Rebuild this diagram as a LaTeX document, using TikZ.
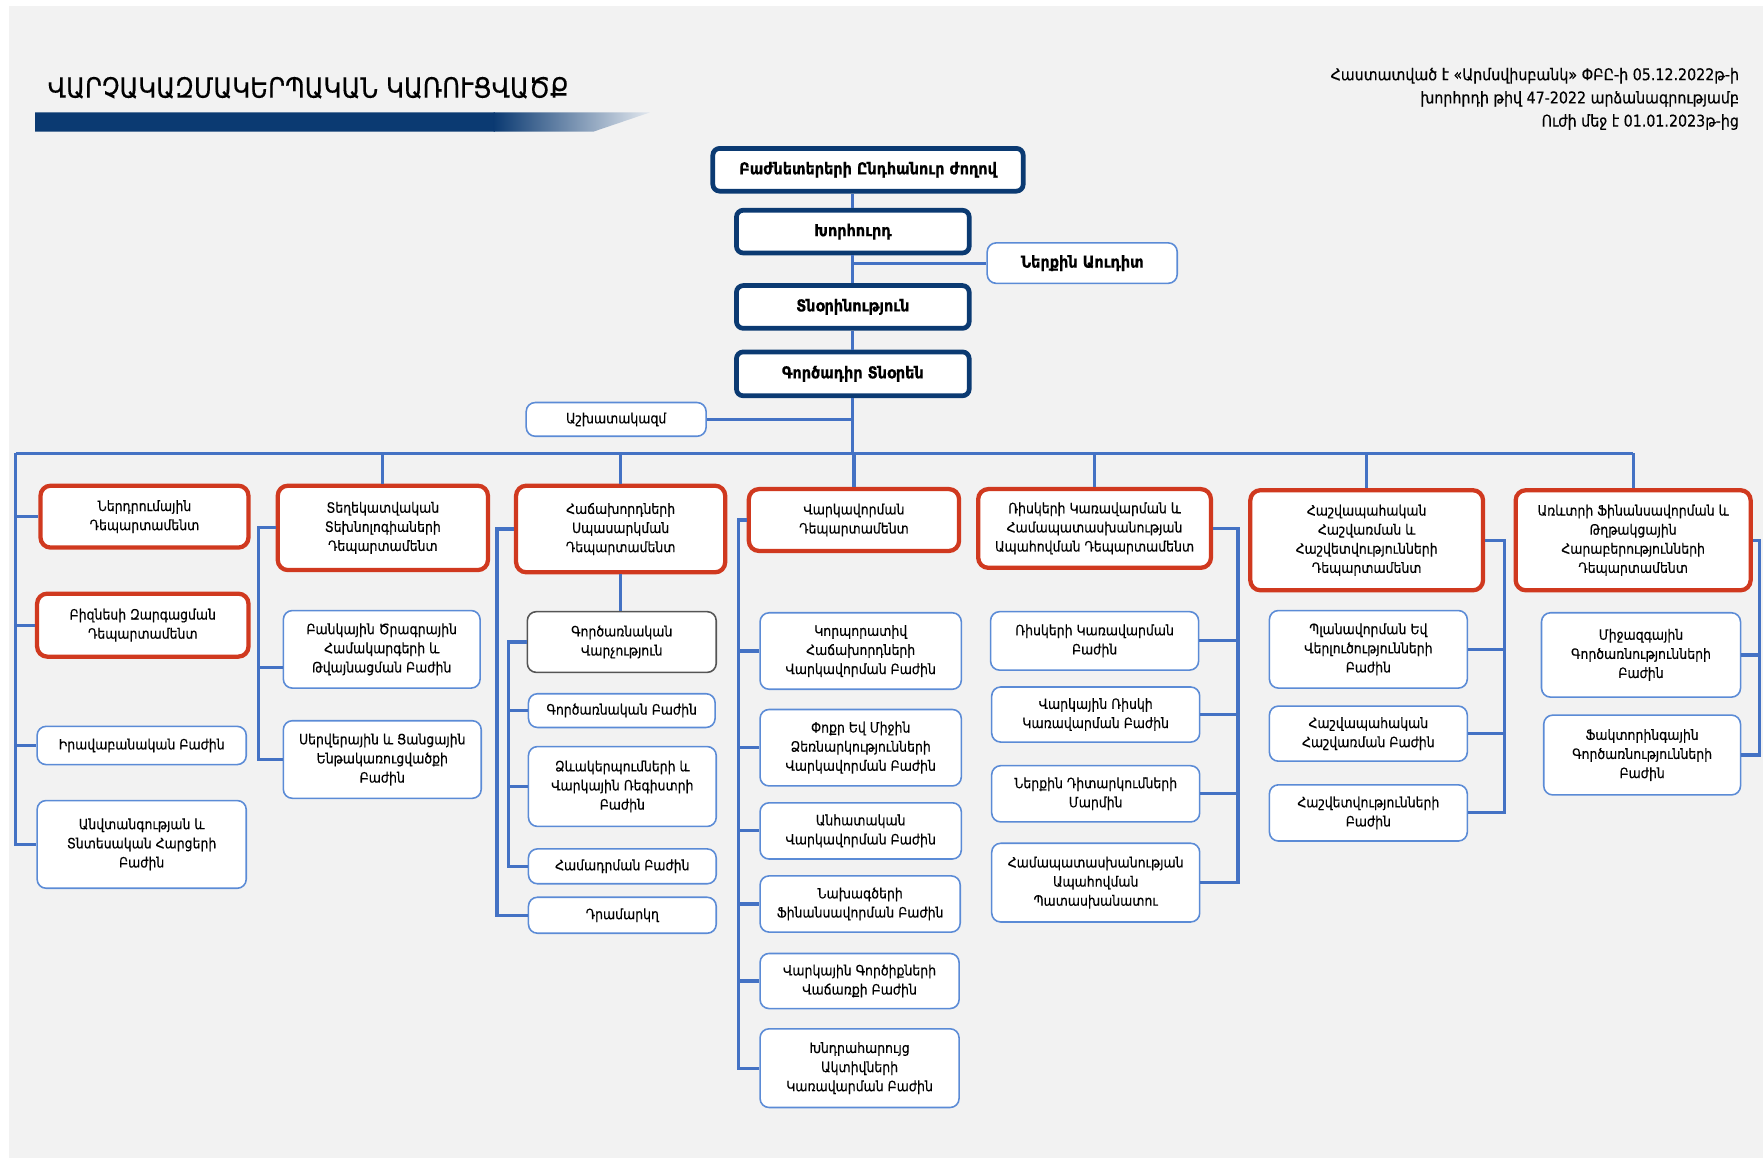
\documentclass[tikz,border=0pt]{standalone}
\usepackage{fontspec}
\setmainfont{DejaVu Sans}[FakeStretch=0.88, FakeBold=0.35]
\definecolor{bg}{RGB}{242,242,242}
\definecolor{navy}{RGB}{11,58,114}
\definecolor{dred}{RGB}{208,57,31}
\definecolor{lblue}{RGB}{68,114,196}
\definecolor{bblue}{RGB}{91,139,214}
\definecolor{gbord}{RGB}{85,85,85}
\tikzset{
  base/.style={fill=white, align=center, inner sep=1pt, font=\fontsize{6.3}{8.5}\selectfont},
  navybox/.style={base, draw=navy, line width=2.1pt, rounded corners=3pt, font=\bfseries\fontsize{7.3}{9}\selectfont},
  redbox/.style={base, draw=dred, line width=1.9pt, rounded corners=4.5pt},
  bluebox/.style={base, draw=bblue, line width=0.7pt, rounded corners=4pt},
  greybox/.style={base, draw=gbord, line width=0.7pt, rounded corners=4pt},
  conn/.style={draw=lblue, line width=1.4pt},
}
\begin{document}
\begin{tikzpicture}[x=0.5pt,y=-0.5pt]
\useasboundingbox (0,0) rectangle (1568,1033);
\fill[white] (0,0) rectangle (1568,1033);
\fill[bg] (8,5) rectangle (1568,1030);

% title
\node[anchor=west, inner sep=0pt, font=\fontsize{12.4}{13}\selectfont] (title) at (42,78) {ՎԱՐՉԱԿԱԶՄԱԿԵՐՊԱԿԱՆ ԿԱՌՈՒՑՎԱԾՔ};
\begin{scope}
  \clip (31,100) -- (578,100) -- (528,117) -- (31,117) -- cycle;
  \fill[navy] (31,100) rectangle (440,117);
  \shade[left color=navy, right color=navy!12!white] (439,100) rectangle (578,117);
\end{scope}

% approval text
\node[anchor=north east, align=right, inner sep=0pt, font=\fontsize{7.2}{10.3}\selectfont] (appr) at (1547,60)
 {Հաստատված է «Արմսվիսբանկ» ՓԲԸ-ի 05.12.2022թ-ի\\ խորհրդի թիվ 47-2022 արձանագրությամբ\\ Ուժի մեջ է 01.01.2023թ-ից};

% top nodes
\node[navybox, minimum width=138pt, minimum height=19pt] (gm) at (772,151) {Բաժնետերերի Ընդհանուր ժողով};
\node[navybox, minimum width=103.5pt, minimum height=19pt] (kh) at (758.5,206) {Խորհուրդ};
\node[bluebox, minimum width=84.5pt, minimum height=18pt, font=\bfseries\fontsize{7.3}{9}\selectfont] (audit) at (962.5,234) {Ներքին Աուդիտ};
\node[navybox, minimum width=103.5pt, minimum height=19pt] (tn) at (758.5,273) {Տնօրինություն};
\node[navybox, minimum width=103.5pt, minimum height=19.5pt] (gd) at (758.5,332.5) {Գործադիր Տնօրեն};
\node[bluebox, minimum width=80pt, minimum height=15pt] (ash) at (548,373) {Աշխատակազմ};

% departments
\node[redbox, minimum width=92.5pt, minimum height=27.5pt] (d1) at (128.5,459.5) {Ներդրումային\\ Դեպարտամենտ};
\node[redbox, minimum width=93.5pt, minimum height=37.5pt] (d2) at (340.5,469.5) {Տեղեկատվական\\ Տեխնոլոգիաների\\ Դեպարտամենտ};
\node[redbox, minimum width=93pt, minimum height=38.5pt] (d3) at (552,470.5) {Հաճախորդների\\ Սպասարկման\\ Դեպարտամենտ};
\node[redbox, minimum width=93.5pt, minimum height=27.5pt] (d4) at (759.5,462.5) {Վարկավորման\\ Դեպարտամենտ};
\node[redbox, minimum width=103.5pt, minimum height=35pt] (d5) at (973.5,470) {Ռիսկերի Կառավարման և\\ Համապատասխանության\\ Ապահովման Դեպարտամենտ};
\node[redbox, minimum width=103.5pt, minimum height=44.5pt] (d6) at (1215.5,480.5) {Հաշվապահական\\ Հաշվառման և\\ Հաշվետվությունների\\ Դեպարտամենտ};
\node[redbox, minimum width=104.5pt, minimum height=44.5pt] (d7) at (1452.5,480.5) {Առևտրի Ֆինանսավորման և\\ Թղթակցային\\ Հարաբերությունների\\ Դեպարտամենտ};

% column 1
\node[redbox, minimum width=94pt, minimum height=28pt] (biz) at (127,556) {Բիզնեսի Զարգացման\\ Դեպարտամենտ};
\node[bluebox, minimum width=93pt, minimum height=17pt] (irav) at (126,663) {Իրավաբանական Բաժին};
\node[bluebox, minimum width=93pt, minimum height=39pt] (anvt) at (126,751) {Անվտանգության և\\ Տնտեսական Հարցերի\\ Բաժին};

% column 2
\node[bluebox, minimum width=87.5pt, minimum height=34.5pt] (bank) at (339.5,577.5) {Բանկային Ծրագրային\\ Համակարգերի և\\ Թվայնացման Բաժին};
\node[bluebox, minimum width=88pt, minimum height=34.5pt] (serv) at (340,675.5) {Սերվերային և Ցանցային\\ Ենթակառուցվածքի\\ Բաժին};

% column 3
\node[greybox, minimum width=84pt, minimum height=27pt] (gv) at (553,571) {Գործառնական\\ Վարչություն};
\node[bluebox, minimum width=83pt, minimum height=15pt] (gb) at (553,632) {Գործառնական Բաժին};
\node[bluebox, minimum width=83.5pt, minimum height=35.5pt] (dzev) at (553.5,699.5) {Ձևակերպումների և\\ Վարկային Ռեգիստրի\\ Բաժին};
\node[bluebox, minimum width=83.5pt, minimum height=15.5pt] (hamad) at (553.5,770.5) {Համադրման Բաժին};
\node[bluebox, minimum width=83.5pt, minimum height=16pt] (dram) at (553.5,814) {Դրամարկղ};

% column 4
\node[bluebox, minimum width=89.5pt, minimum height=34pt] (korp) at (765.5,579) {Կորպորատիվ\\ Հաճախորդների\\ Վարկավորման Բաժին};
\node[bluebox, minimum width=89.5pt, minimum height=34pt] (poqr) at (765.5,665) {Փոքր Եվ Միջին\\ Ձեռնարկությունների\\ Վարկավորման Բաժին};
\node[bluebox, minimum width=89.5pt, minimum height=25pt] (anh) at (765.5,739) {Անհատական\\ Վարկավորման Բաժին};
\node[bluebox, minimum width=89pt, minimum height=25pt] (nax) at (765,804) {Նախագծերի\\ Ֆինանսավորման Բաժին};
\node[bluebox, minimum width=88.5pt, minimum height=24.5pt] (vark) at (764.5,872.5) {Վարկային Գործիքների\\ Վաճառքի Բաժին};
\node[bluebox, minimum width=88.5pt, minimum height=35pt] (khnd) at (764.5,950) {Խնդրահարույց\\ Ակտիվների\\ Կառավարման Բաժին};

% column 5
\node[bluebox, minimum width=92.5pt, minimum height=26pt] (risk) at (973.5,570) {Ռիսկերի Կառավարման\\ Բաժին};
\node[bluebox, minimum width=92.5pt, minimum height=24.5pt] (vrisk) at (974.5,635.5) {Վարկային Ռիսկի\\ Կառավարման Բաժին};
\node[bluebox, minimum width=92.5pt, minimum height=25pt] (nerq) at (974.5,706) {Ներքին Դիտարկումների\\ Մարմին};
\node[bluebox, minimum width=92.5pt, minimum height=35pt] (hamap) at (974.5,785) {Համապատասխանության\\ Ապահովման\\ Պատասխանատու};

% column 6
\node[bluebox, minimum width=88pt, minimum height=34.5pt] (plan) at (1217,577.5) {Պլանավորման Եվ\\ Վերլուծությունների\\ Բաժին};
\node[bluebox, minimum width=88pt, minimum height=24.5pt] (hashv) at (1217,652.5) {Հաշվապահական\\ Հաշվառման Բաժին};
\node[bluebox, minimum width=88pt, minimum height=25pt] (hashvet) at (1217,723) {Հաշվետվությունների\\ Բաժին};

% column 7
\node[bluebox, minimum width=88.5pt, minimum height=37.5pt] (mij) at (1459.5,582.5) {Միջազգային\\ Գործառնությունների\\ Բաժին};
\node[bluebox, minimum width=87.5pt, minimum height=35.5pt] (fakt) at (1460.5,671.5) {Ֆակտորինգային\\ Գործառնությունների\\ Բաժին};

% ---------- connectors ----------
\coordinate (busL) at (14,403);
\coordinate (v2) at (230,0);
\coordinate (v3a) at (442,0);
\coordinate (v3b) at (452,0);
\coordinate (v4) at (657,0);
\coordinate (v5) at (1101,0);
\coordinate (v6) at (1338,0);
\coordinate (v7) at (1565,0);

\draw[conn] (kh.north |- gm.south) -- (kh.north);
\draw[conn] (kh.south) -- (tn.north);
\draw[conn] (tn.south) -- (gd.north);
\draw[conn] (gd.south) -- (gd.south |- busL);
\draw[conn] (audit.west) -- (audit.west -| kh.south);
\draw[conn] (ash.east) -- (ash.east -| gd.south);

% bus
\draw[conn] (busL) -- (busL -| d7.north);
\foreach \d in {d2,d3,d4,d5,d6,d7} \draw[conn] (\d.north |- busL) -- (\d.north);

% column 1
\draw[conn] (busL) -- (busL |- anvt.west) -- (anvt.west);
\draw[conn] (busL |- d1.west) -- (d1.west);
\draw[conn] (busL |- biz.west) -- (biz.west);
\draw[conn] (busL |- irav.west) -- (irav.west);

% column 2
\draw[conn] (d2.west) -- (v2 |- d2.west) -- (v2 |- serv.west) -- (serv.west);
\draw[conn] (v2 |- 0,594) -- (bank.west |- 0,594);

% column 3
\draw[conn] (d3.south) -- (d3.south |- gv.north);
\draw[conn] (d3.west) -- (v3a |- d3.west) -- (v3a |- dram.west) -- (dram.west);
\draw[conn] (gv.west) -- (v3b |- gv.west) -- (v3b |- hamad.west) -- (hamad.west);
\draw[conn] (v3b |- gb.west) -- (gb.west);
\draw[conn] (v3b |- dzev.west) -- (dzev.west);

% column 4
\draw[conn] (d4.west) -- (v4 |- d4.west) -- (v4 |- khnd.west) -- (khnd.west);
\foreach \n in {korp,poqr,anh,nax,vark} \draw[conn] (v4 |- \n.west) -- (\n.west);

% column 5
\draw[conn] (d5.east) -- (v5 |- d5.east) -- (v5 |- hamap.east) -- (hamap.east);
\foreach \n in {risk,vrisk,nerq} \draw[conn] (v5 |- \n.east) -- (\n.east);

% column 6
\draw[conn] (d6.east) -- (v6 |- d6.east) -- (v6 |- hashvet.east) -- (hashvet.east);
\foreach \n in {plan,hashv} \draw[conn] (v6 |- \n.east) -- (\n.east);

% column 7
\draw[conn] (d7.east) -- (v7 |- d7.east) -- (v7 |- fakt.east) -- (fakt.east);
\draw[conn] (v7 |- mij.east) -- (mij.east);
\end{tikzpicture}
\end{document}
